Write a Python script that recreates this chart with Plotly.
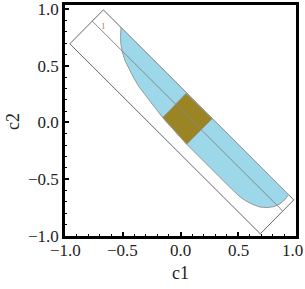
import plotly.graph_objects as go

# Outer rectangle (corners, closed)
rect_x = [-0.668, 0.981, 0.691, -0.958, -0.668]
rect_y = [0.992, -0.682, -0.981, 0.693, 0.992]

# Middle line inside rectangle
mid_x = [-0.764, 0.886]
mid_y = [0.893, -0.781]

# Blue region boundary
blue_x = [-0.515, 0.935, 0.905, 0.862, 0.810, 0.749, 0.688, 0.628, 0.567, 0.515, 0.429,
          0.054, -0.154, -0.221, -0.293, -0.359, -0.409, -0.450, -0.481, -0.504, -0.517, -0.519, -0.515]
blue_y = [0.837, -0.635, -0.679, -0.717, -0.741, -0.750, -0.745, -0.723, -0.692, -0.655, -0.572,
          -0.192, 0.043, 0.129, 0.224, 0.314, 0.400, 0.476, 0.547, 0.621, 0.696, 0.766, 0.837]

# Gold square
gold_x = [-0.154, 0.048, 0.275, 0.054, -0.154]
gold_y = [0.043, 0.257, 0.033, -0.192, 0.043]

# Small label
lab_x = [-0.668]
lab_y = [0.839]
lab_t = ["1"]

tick_vals = [-1.0, -0.5, 0.0, 0.5, 1.0]
tick_text = ["\u22121.0", "\u22120.5", "0.0", "0.5", "1.0"]

FONT = "Liberation Serif"
TXT = "#222222"

fig = go.Figure()
fig.add_trace(go.Scatter(x=rect_x, y=rect_y, mode="lines",
                         line=dict(color="#666666", width=1), hoverinfo="skip"))
fig.add_trace(go.Scatter(x=blue_x, y=blue_y, mode="lines", fill="toself",
                         fillcolor="#9dd8ea", line=dict(color="#999999", width=1), hoverinfo="skip"))
fig.add_trace(go.Scatter(x=gold_x, y=gold_y, mode="lines", fill="toself",
                         fillcolor="#9b8424", line=dict(color="#999999", width=1), hoverinfo="skip"))
fig.add_trace(go.Scatter(x=mid_x, y=mid_y, mode="lines",
                         line=dict(color="#888888", width=1), hoverinfo="skip"))
fig.add_trace(go.Scatter(x=lab_x, y=lab_y, mode="text", text=lab_t,
                         textfont=dict(family=FONT, size=8, color="#b8702a"),
                         hoverinfo="skip"))

axis_common = dict(
    showgrid=False, zeroline=False, showline=True, linecolor="black", linewidth=2.5,
    mirror=True, ticks="inside", ticklen=4, tickwidth=1.5, tickcolor="black",
    tickmode="array", tickvals=tick_vals, ticktext=tick_text, automargin=False,
    ticklabeloverflow="allow",
    minor=dict(ticks="inside", ticklen=2, tickwidth=1, tickcolor="black", dtick=0.1, tick0=0),
    tickfont=dict(family=FONT, size=17, color=TXT),
)

fig.update_xaxes(range=[-1.0, 1.0], **axis_common)
fig.update_xaxes(showticklabels=False)
fig.update_yaxes(range=[-1.0, 1.035], **axis_common)

# x tick labels as annotations (keeps the last one inside the page)
for v, t in zip(tick_vals, tick_text):
    last = v == tick_vals[-1]
    fig.add_annotation(text=t, xref="x", yref="paper", x=v, y=0,
                       xanchor="right" if last else "center", yanchor="top",
                       xshift=9 if last else 0, yshift=-3, showarrow=False,
                       font=dict(family=FONT, size=17, color=TXT))

fig.add_annotation(text="c1", xref="paper", yref="paper", x=0.498, y=-0.160,
                   xanchor="center", yanchor="middle", showarrow=False,
                   font=dict(family=FONT, size=18, color=TXT))
fig.add_annotation(text="c2", xref="paper", yref="paper", x=-0.225, y=0.494,
                   xanchor="center", yanchor="middle", showarrow=False, textangle=-90,
                   font=dict(family=FONT, size=18, color=TXT))

fig.update_layout(width=305, height=289, margin=dict(l=65, r=9, t=5, b=53),
                  plot_bgcolor="white", paper_bgcolor="white", showlegend=False)

fig.write_html("out.html", config={"displayModeBar": False},
               post_script="document.body.style.margin='0';document.body.style.overflow='hidden';")
